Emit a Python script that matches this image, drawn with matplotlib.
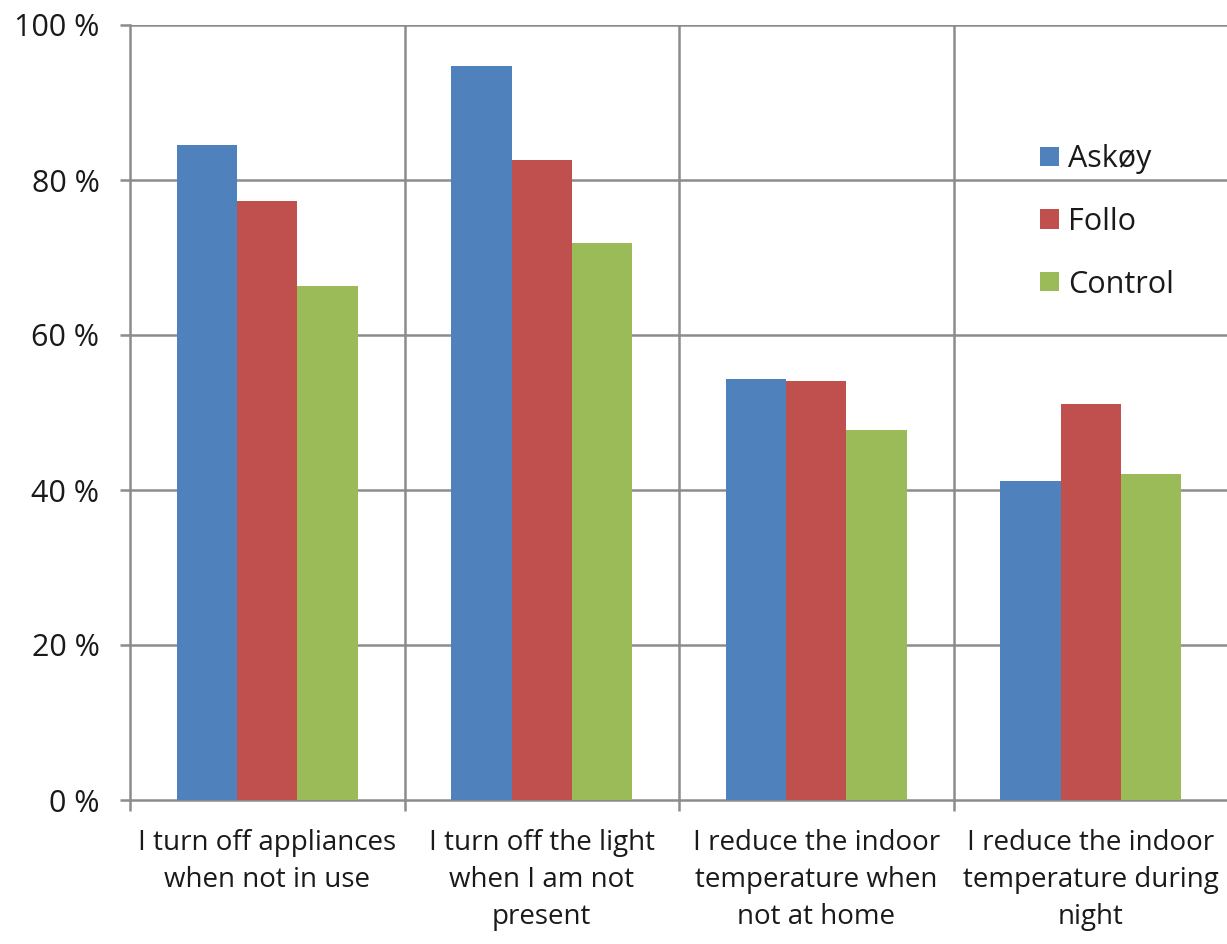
import matplotlib
matplotlib.use("Agg")
import matplotlib.pyplot as plt
import numpy as np
from matplotlib.ticker import FixedLocator, FuncFormatter

categories = [
    "I turn off appliances\nwhen not in use",
    "I turn off the light\nwhen I am not\npresent",
    "I reduce the indoor\ntemperature when\nnot at home",
    "I reduce the indoor\ntemperature during\nnight",
]
series_names = ["Askøy", "Follo", "Control"]
askoy = [84.5, 94.7, 54.3, 41.2]
follo = [77.3, 82.6, 54.1, 51.1]
control = [66.3, 71.9, 47.7, 42.1]
y_ticks = [0, 20, 40, 60, 80, 100]

colors = ["#4F81BD", "#C0504D", "#9BBB59"]
grid_color = "#8C8C8C"

plt.rcParams["font.family"] = ["Open Sans", "DejaVu Sans"]

fig = plt.figure(figsize=(12.27, 9.44), dpi=100)
ax = fig.add_axes([130 / 1227, 144 / 944, 1098 / 1227, 775 / 944])

x = np.arange(len(categories))
bw = 0.22
for i, (vals, name) in enumerate(zip([askoy, follo, control], series_names)):
    ax.bar(x + (i - 1) * bw, vals, width=bw, color=colors[i], label=name, zorder=3)

ax.set_xlim(-0.5, len(categories) - 0.5)
ax.set_ylim(0, 100)

# horizontal gridlines and category separators
for yv in y_ticks[1:]:
    ax.axhline(yv, color=grid_color, lw=1.8, zorder=1)
for xb in np.arange(0.5, len(categories) - 0.5 + 1e-9, 1.0):
    ax.axvline(xb, color=grid_color, lw=1.8, zorder=1)

for side in ["top", "right"]:
    ax.spines[side].set_visible(False)
ax.spines["left"].set_color(grid_color)
ax.spines["left"].set_linewidth(1.8)
ax.spines["bottom"].set_color(grid_color)
ax.spines["bottom"].set_linewidth(1.8)

ax.yaxis.set_major_locator(FixedLocator(y_ticks))
ax.yaxis.set_major_formatter(FuncFormatter(lambda v, p: f"{int(v)} %"))
ax.tick_params(axis="y", length=7, width=1.8, color=grid_color, labelsize=22,
               pad=15, labelcolor="#1a1a1a")

ax.set_xticks(x)
ax.set_xticklabels(categories, fontsize=20, color="#1a1a1a", linespacing=1.42)
ax.tick_params(axis="x", which="major", length=0, pad=21)
ax.set_xticks(np.arange(-0.5, len(categories) - 0.5 + 1e-9, 1.0), minor=True)
ax.tick_params(axis="x", which="minor", length=8, width=1.8, color=grid_color)

leg = ax.legend(loc="upper left", bbox_to_anchor=(0.818, 0.862), frameon=False,
                fontsize=22, handlelength=0.6, handleheight=0.6,
                handletextpad=0.3, labelspacing=1.07, borderaxespad=0)
for t in leg.get_texts():
    t.set_color("#1a1a1a")

fig.savefig("out.png", dpi=100, facecolor="white")
